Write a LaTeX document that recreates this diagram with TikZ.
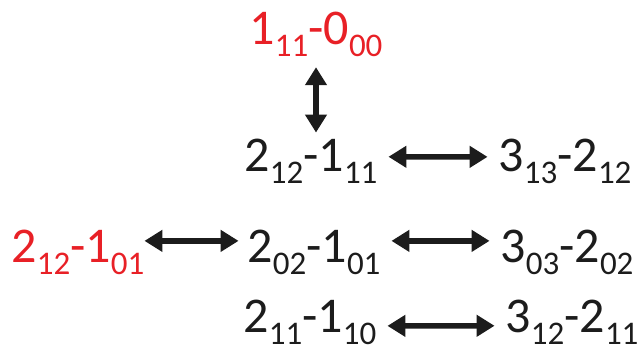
\documentclass[tikz,border=0pt]{standalone}
\usepackage{fontspec}
\setmainfont{Carlito}
\usetikzlibrary{arrows.meta,positioning}
\definecolor{labred}{RGB}{232,32,38}
\definecolor{labblack}{RGB}{28,28,28}
\newcommand{\lowidx}[1]{\raisebox{-12pt}{\fontsize{33}{33}\selectfont #1}}
\newcommand{\trans}[4]{#1\lowidx{#2}-#3\lowidx{#4}}
\tikzset{
  lab/.style={inner sep=0pt,outer sep=0pt,anchor=base,font=\fontsize{50}{50}\selectfont,text=labblack},
  redlab/.style={lab,text=labred},
  dblarr/.style={{Triangle[length=18pt,width=21pt]}-{Triangle[length=18pt,width=21pt]},line width=5.5pt,draw=labblack}
}

\begin{document}
\begin{tikzpicture}[x=1pt,y=1pt]
  \useasboundingbox (0,0) rectangle (639,353);
  \node[redlab] (t) at (316,308) {\trans{1}{11}{0}{00}};
  \node[lab] (c1) at (311,181) {\trans{2}{12}{1}{11}};
  \node[lab] (r1) at (565,181) {\trans{3}{13}{2}{12}};
  \node[redlab] (l2) at (78,90) {\trans{2}{12}{1}{01}};
  \node[lab] (c2) at (314,90) {\trans{2}{02}{1}{01}};
  \node[lab] (r2) at (567,90) {\trans{3}{03}{2}{02}};
  \node[lab] (c3) at (310,20) {\trans{2}{11}{1}{10}};
  \node[lab] (r3) at (572,20) {\trans{3}{12}{2}{11}};

  \draw[dblarr,shorten <=10pt,shorten >=7pt] (t.south) -- (t.south |- c1.north);
  \draw[dblarr,shorten <=11pt,shorten >=11pt] ([yshift=5pt]c1.east) -- ([yshift=5pt]r1.west);
  \draw[dblarr,shorten <=0pt,shorten >=9pt] ([yshift=12pt]l2.east) -- ([yshift=12pt]c2.west);
  \draw[dblarr,shorten <=11pt,shorten >=11pt] ([yshift=12pt]c2.east) -- ([yshift=12pt]r2.west);
  \draw[dblarr,shorten <=11pt,shorten >=11pt] ([yshift=-3pt]c3.east) -- ([yshift=-3pt]r3.west);
\end{tikzpicture}
\end{document}
